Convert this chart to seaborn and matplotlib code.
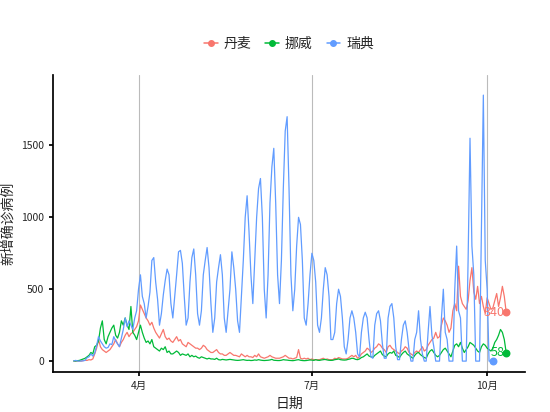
import pandas as pd
import matplotlib.pyplot as plt
import matplotlib.dates as mdates
import seaborn as sns

# 每日新增确诊病例 (2020-02-27 起), 按周读取
denmark = [0, 0, 1,
    0, 0, 4, 5, 5, 10, 8,
    15, 50, 90, 150, 100, 80, 70,
    60, 70, 80, 100, 120, 150, 120,
    100, 130, 150, 180, 200, 170, 190,
    200, 220, 240, 280, 390, 360, 330,
    300, 280, 250, 270, 230, 200, 180,
    160, 190, 220, 170, 150, 160, 140,
    130, 150, 170, 140, 150, 120, 110,
    100, 130, 120, 110, 100, 90, 90,
    80, 90, 110, 100, 80, 70, 60,
    60, 70, 80, 60, 50, 50, 40,
    40, 50, 60, 50, 40, 40, 35,
    30, 50, 40, 30, 40, 30, 30,
    25, 40, 30, 50, 30, 25, 20,
    25, 30, 40, 30, 25, 20, 20,
    20, 25, 30, 40, 30, 20, 20,
    15, 20, 25, 80, 20, 15, 20,
    15, 20, 10, 15, 10, 10, 10,
    10, 15, 20, 10, 15, 10, 10,
    10, 20, 15, 25, 20, 15, 15,
    15, 20, 30, 40, 30, 40, 20,
    30, 50, 60, 70, 90, 80, 60,
    70, 90, 100, 120, 110, 90, 80,
    60, 100, 110, 90, 80, 70, 60,
    50, 70, 80, 100, 90, 60, 50,
    40, 60, 70, 60, 80, 100, 70,
    80, 110, 130, 150, 160, 200, 160,
    170, 250, 300, 280, 250, 200, 230,
    350, 400, 350, 660, 450, 400, 380,
    360, 420, 560, 650, 480, 430, 520,
    400, 450, 380, 330, 440, 400, 360,
    370, 420, 470, 380, 440, 520, 450,
    340]

norway = [1, 1, 3,
    5, 10, 15, 20, 30, 40, 60,
    50, 100, 110, 140, 230, 280, 150,
    120, 170, 200, 230, 250, 180, 160,
    200, 280, 250, 300, 250, 220, 380,
    200, 180, 150, 200, 250, 200, 160,
    130, 140, 120, 150, 100, 90, 80,
    70, 90, 80, 100, 60, 70, 50,
    50, 60, 70, 60, 40, 50, 45,
    40, 50, 30, 40, 30, 35, 25,
    20, 30, 25, 20, 15, 20, 15,
    15, 12, 20, 10, 8, 12, 10,
    8, 10, 12, 10, 8, 6, 5,
    6, 8, 10, 7, 5, 6, 4,
    5, 8, 6, 10, 7, 5, 4,
    5, 6, 8, 12, 6, 5, 4,
    4, 6, 10, 8, 7, 5, 4,
    3, 5, 8, 10, 6, 4, 3,
    4, 6, 8, 7, 5, 10, 6,
    5, 8, 10, 12, 8, 6, 5,
    6, 10, 12, 15, 10, 8, 7,
    8, 12, 15, 20, 18, 12, 10,
    15, 25, 30, 40, 50, 35, 30,
    25, 40, 50, 60, 70, 45, 35,
    30, 50, 60, 55, 70, 40, 35,
    25, 45, 60, 70, 50, 40, 30,
    20, 40, 55, 60, 45, 35, 25,
    20, 50, 70, 80, 60, 40, 30,
    40, 60, 80, 90, 70, 50, 30,
    70, 110, 120, 100, 130, 90, 60,
    80, 100, 130, 120, 110, 90, 70,
    60, 100, 120, 110, 90, 80, 70,
    90, 130, 150, 180, 220, 200, 150,
    58]

sweden = [1, 5, 1,
    0, 1, 2, 6, 24, 30, 50,
    35, 55, 108, 170, 140, 120, 100,
    90, 95, 120, 115, 170, 140, 120,
    100, 160, 220, 300, 240, 280, 250,
    220, 300, 350, 500, 600, 450, 400,
    300, 380, 480, 700, 720, 550, 430,
    250, 330, 460, 560, 640, 600, 400,
    300, 450, 600, 760, 770, 680, 450,
    250, 300, 550, 720, 780, 600, 330,
    250, 350, 600, 700, 790, 650, 400,
    200, 300, 550, 650, 740, 600, 300,
    200, 350, 500, 760, 650, 500, 280,
    200, 450, 700, 1000, 1150, 900, 600,
    400, 700, 1000, 1200, 1270, 1000, 500,
    300, 600, 1100, 1350, 1480, 1100, 600,
    400, 700, 1200, 1600, 1700, 1200, 600,
    350, 500, 800, 1000, 950, 700, 300,
    250, 400, 600, 750, 700, 550, 250,
    200, 300, 500, 650, 600, 450, 150,
    150, 200, 400, 500, 450, 300, 100,
    50, 150, 300, 350, 300, 200, 50,
    30, 200, 300, 340, 300, 150, 30,
    20, 250, 330, 350, 280, 120, 20,
    20, 300, 380, 400, 300, 100, 10,
    10, 150, 250, 280, 200, 80, 0,
    0, 150, 200, 350, 150, 50, 0,
    0, 200, 380, 180, 100, 0, 0,
    0, 300, 500, 200, 150, 0, 0,
    0, 500, 800, 350, 300, 0, 0,
    0, 700, 1550, 800, 600, 0, 0,
    0, 900, 1850, 700, 500, 0, 0,
    0]

countries = ['丹麦', '挪威', '瑞典']
series = [denmark, norway, sweden]
colors = ['#F8766D', '#00BA38', '#619CFF']

frames = []
for name, vals in zip(countries, series):
    frames.append(pd.DataFrame({'date': pd.date_range('2020-02-27', periods=len(vals)),
                                'cases': vals, 'country': name}))
df = pd.concat(frames)

sns.set_theme(style='white')
plt.rcParams['font.family'] = ['Noto Sans CJK SC', 'DejaVu Sans']

fig, ax = plt.subplots(figsize=(5.5, 4.12), dpi=100)
sns.lineplot(data=df, x='date', y='cases', hue='country', palette=colors,
             linewidth=0.9, ax=ax, legend=False)

# 末端点和数值
for name, col in zip(countries, colors):
    last = df[df['country'] == name].iloc[-1]
    ax.scatter(last['date'], last['cases'], color=col, s=22, zorder=5)
    if last['cases'] > 0:
        ax.text(last['date'] - pd.Timedelta(days=1), last['cases'], f"{last['cases']}",
                color=col, ha='right', va='center', fontsize=9)

ax.set_xlim(pd.Timestamp('2020-02-16'), pd.Timestamp('2020-10-21'))
ax.set_ylim(-76, 1990)
ax.set_yticks([0, 500, 1000, 1500])
ax.xaxis.set_major_locator(mdates.MonthLocator(bymonth=[4, 7, 10]))
ax.xaxis.set_major_formatter(mdates.DateFormatter('%-m月'))
ax.grid(axis='x', color='#bbbbbb', linewidth=0.8)
for s in ['top', 'right']:
    ax.spines[s].set_visible(False)
for s in ['left', 'bottom']:
    ax.spines[s].set_color('black')
ax.tick_params(axis='both', labelsize=7.5, length=3, color='black', bottom=True, left=True)
ax.set_xlabel('日期', fontsize=10)
ax.set_ylabel('新增确诊病例', fontsize=10)

handles = [plt.Line2D([], [], color=c, marker='o', markersize=4, linewidth=1.1) for c in colors]
ax.legend(handles, countries, loc='lower center', bbox_to_anchor=(0.5, 1.04), ncol=3,
          frameon=False, fontsize=10, handlelength=1.0, handletextpad=0.4, columnspacing=1.0)

fig.subplots_adjust(left=0.096, right=0.955, top=0.818, bottom=0.097)
fig.savefig('out.png', dpi=100)
